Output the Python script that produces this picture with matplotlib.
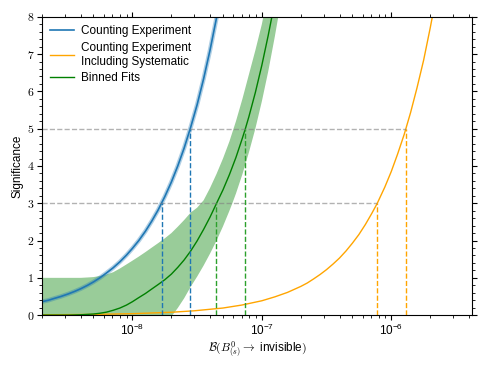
import matplotlib
matplotlib.use("Agg")
import matplotlib.pyplot as plt
from matplotlib.ticker import FuncFormatter, MultipleLocator
import numpy as np

plt.rcParams["mathtext.fontset"] = "cm"
plt.rcParams["font.family"] = "Liberation Sans"

# counting experiment, BR in units of 1e-9
br_count = [2.0, 2.25, 2.5, 2.8, 3.2, 3.6, 4.0, 4.5, 5.0, 5.6, 6.3, 7.1, 8.0, 9.0, 10.0,
            11.2, 12.6, 14.1, 15.8, 17.8, 20.0, 22.4, 25.1, 28.2, 31.6, 35.5, 39.8, 44.7]
z_count = [0.36, 0.40, 0.45, 0.50, 0.57, 0.64, 0.71, 0.80, 0.89, 1.00, 1.13, 1.27, 1.43,
           1.61, 1.79, 2.00, 2.25, 2.52, 2.82, 3.18, 3.57, 4.00, 4.48, 5.04, 5.64, 6.34,
           7.11, 7.98]

# counting experiment including systematic, BR in units of 1e-9
br_syst = [2, 5, 10, 20, 30, 50, 70, 100, 126, 158, 200, 224, 251, 282, 316, 355, 398,
           447, 501, 562, 631, 708, 780, 891, 1000, 1120, 1260, 1410, 1580, 1780, 2000, 2120]
z_syst = [0.008, 0.019, 0.039, 0.077, 0.116, 0.19, 0.27, 0.385, 0.49, 0.61, 0.77, 0.86,
          0.97, 1.09, 1.22, 1.37, 1.53, 1.72, 1.93, 2.16, 2.43, 2.73, 3.00, 3.43, 3.85,
          4.32, 4.85, 5.43, 6.09, 6.84, 7.70, 8.16]

# binned fits, central value
br_fit = [2.0, 3.2, 4.0, 5.0, 5.6, 6.3, 7.1, 8.0, 9.0, 10.0, 11.2, 12.6, 14.1, 15.8, 17.8,
          20.0, 22.4, 25.1, 28.2, 31.6, 35.5, 39.8, 44.7, 50.1, 56.2, 63.1, 70.8, 74.6,
          79.4, 89.1, 100, 112, 120]
z_fit = [0.0, 0.0, 0.01, 0.03, 0.05, 0.08, 0.13, 0.19, 0.27, 0.36, 0.47, 0.58, 0.70, 0.82,
         0.95, 1.10, 1.28, 1.48, 1.72, 1.99, 2.30, 2.63, 3.00, 3.36, 3.77, 4.23, 4.75, 5.00,
         5.32, 5.97, 6.70, 7.50, 8.03]

# binned fits, band edges
br_up = [2.0, 2.5, 3.2, 4.0, 4.5, 5.0, 5.6, 6.3, 7.1, 8.0, 9.0, 10.0, 11.2, 12.6, 14.1,
         15.8, 17.8, 20.0, 22.4, 25.1, 28.2, 31.6, 35.5, 39.8, 44.7, 50.1, 56.2, 63.1,
         70.8, 79.4, 89.1, 100, 110]
z_up = [1.00, 1.00, 1.00, 1.00, 1.01, 1.02, 1.05, 1.09, 1.15, 1.25, 1.36, 1.46, 1.57, 1.69,
        1.81, 1.93, 2.06, 2.20, 2.37, 2.55, 2.75, 2.88, 3.08, 3.41, 3.79, 4.20, 4.66, 5.20,
        5.80, 6.45, 7.10, 7.80, 8.50]
br_lo = [2.0, 20.4, 22.4, 25.1, 28.2, 31.6, 35.5, 39.8, 44.7, 50.1, 56.2, 59.2, 63.1,
         70.8, 79.4, 89.1, 100, 112, 126, 134]
z_lo = [0.0, 0.0, 0.19, 0.45, 0.76, 1.03, 1.33, 1.65, 2.00, 2.38, 2.80, 3.00, 3.26,
        3.78, 4.36, 5.00, 5.73, 6.53, 7.47, 8.00]

# where each curve crosses 3 and 5 sigma (units of 1e-9)
x3 = {"count": 16.8, "fit": 44.6, "syst": 780}
x5 = {"count": 28.0, "fit": 74.6, "syst": 1310}

s = 1e-9
fig = plt.figure(figsize=(4.88, 3.66), dpi=100)
ax = fig.add_axes([0.086, 0.139, 0.881, 0.815])

band_x = np.concatenate([br_up, br_lo[::-1]]) * s
band_y = np.concatenate([z_up, z_lo[::-1]])
ax.fill(band_x, band_y, color="green", alpha=0.4, linewidth=0)

bx = np.array(br_count) * s
ax.plot(bx, z_count, color="#1f77b4", lw=3.2, alpha=0.35)
ax.plot(bx, z_count, color="#1f77b4", lw=1.2, label="Counting Experiment")
ax.plot(np.array(br_syst) * s, z_syst, color="orange", lw=1.0,
        label="Counting Experiment\nIncluding Systematic")
ax.plot(np.array(br_fit) * s, z_fit, color="green", lw=1.0, label="Binned Fits")

xmin, xmax = 2e-9, 4.2e-6
ax.hlines([3, 5], xmin, [x3["syst"] * s, x5["syst"] * s], colors="gray", alpha=0.6,
          linestyles="--", lw=1)
cols = {"count": "#1f77b4", "fit": "#2ca02c", "syst": "orange"}
for k in ["count", "fit", "syst"]:
    ax.vlines(x3[k] * s, 0, 3, colors=cols[k], linestyles="--", lw=1)
    ax.vlines(x5[k] * s, 0, 5, colors=cols[k], linestyles="--", lw=1)

ax.set_xscale("log")
ax.set_xlim(xmin, xmax)
ax.set_ylim(0, 8)
ax.yaxis.set_major_locator(MultipleLocator(1))
ax.yaxis.set_minor_locator(MultipleLocator(0.2))
ax.yaxis.set_major_formatter(FuncFormatter(lambda v, p: r"$%d$" % v))
ax.tick_params(which="both", direction="out", top=True, right=True, labelsize=8.5, pad=2)
ax.tick_params(which="major", length=3.5)
ax.tick_params(which="minor", length=2)

ax.set_xlabel(r"$\mathcal{B}(B^0_{(s)} \rightarrow$ invisible$)$", fontsize=8.5, labelpad=1)
ax.set_ylabel("Significance", fontsize=8.5, labelpad=2)
ax.legend(loc="upper left", frameon=False, fontsize=8.5, handlelength=2.0,
          borderaxespad=0.3, labelspacing=0.4, handletextpad=0.6)

fig.savefig("out.png", dpi=100)
